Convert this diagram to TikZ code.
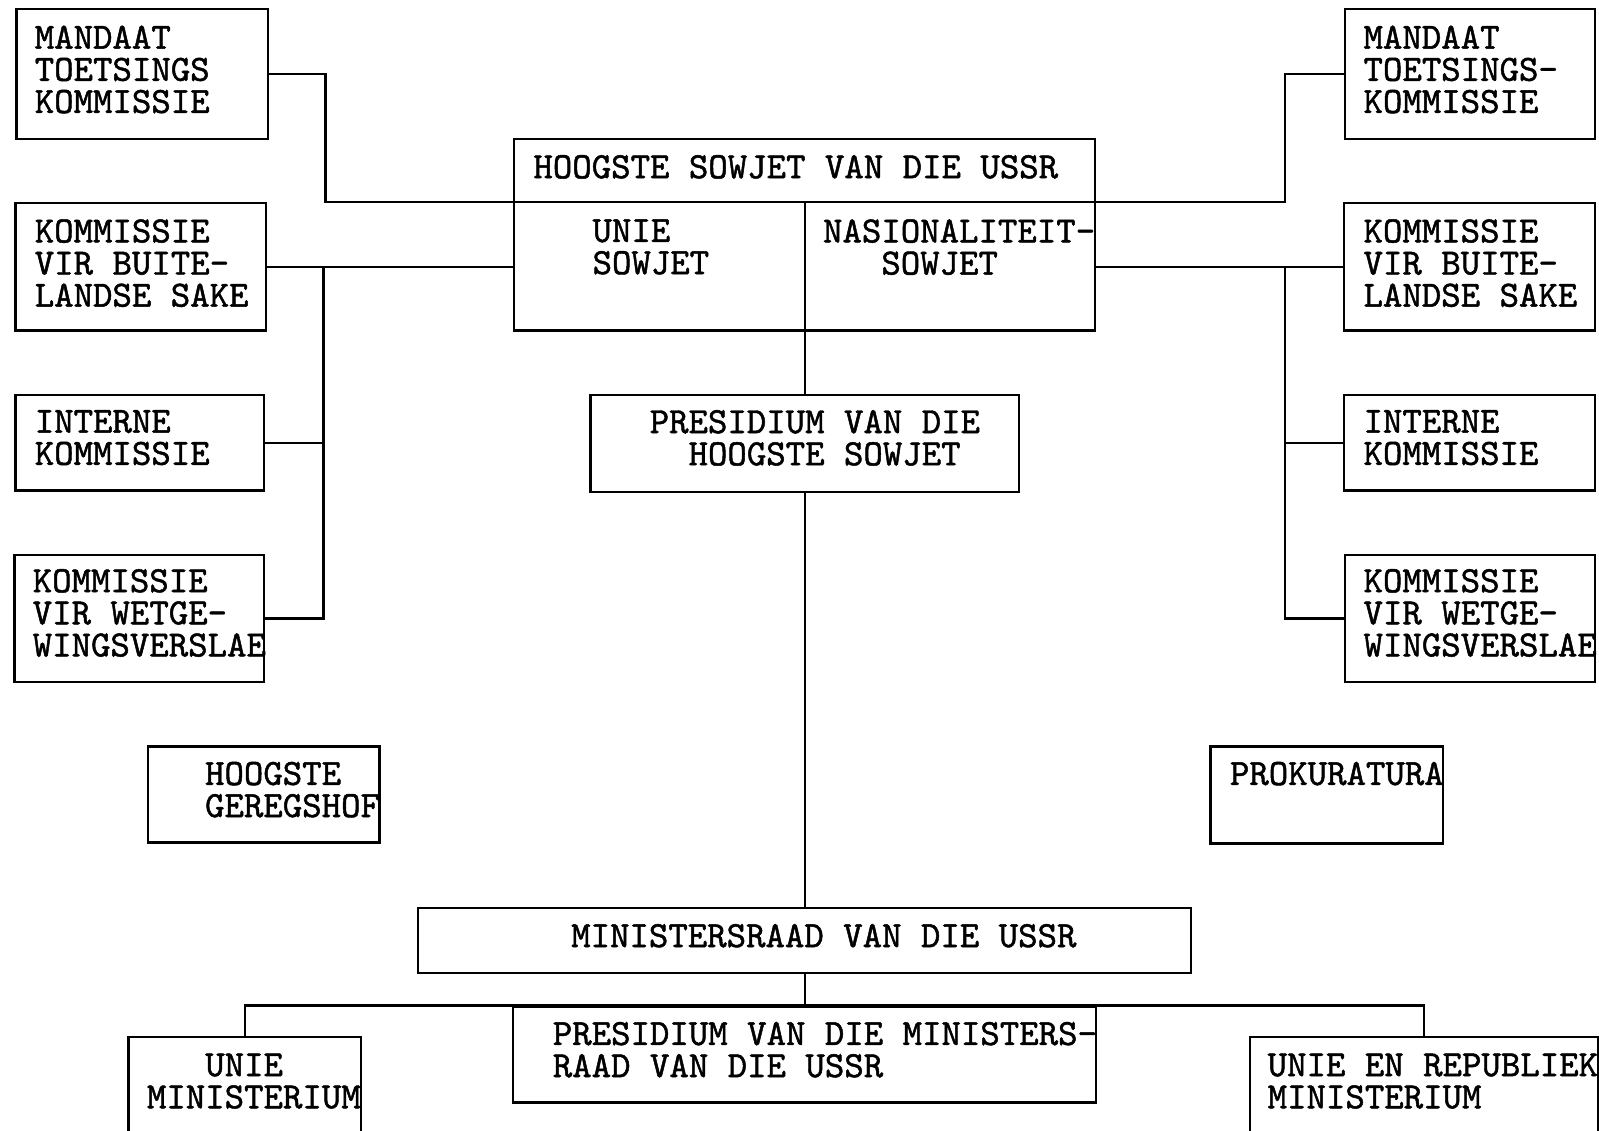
\documentclass[tikz,border=0pt]{standalone}
\usepackage{fontspec}
\newfontfamily\typefont{lmmono10-regular.otf}[FakeBold=1.3]
\usetikzlibrary{positioning}

\begin{document}
\begin{tikzpicture}[x=1pt, y=-1pt, line width=2.2pt,
  box/.style={draw, rectangle, inner sep=0pt, anchor=north west},
  txt/.style={inner sep=0pt, anchor=north west, align=left,
    font=\fontsize{36.3}{31.5}\selectfont\typefont}]
\useasboundingbox (0,0) rectangle (1568,1109);
\clip (0,0) rectangle (1568,1109);

% linker kommissies
\node[box, minimum width=247pt, minimum height=127pt] (lmandaat) at (15,8) {};
\node[box, minimum width=246pt, minimum height=125pt] (lbuite) at (14,198) {};
\node[box, minimum width=244pt, minimum height=94pt] (linterne) at (14,386) {};
\node[box, minimum width=245pt, minimum height=125pt] (lwetge) at (13,543) {};
\node[box, minimum width=227pt, minimum height=94pt] (geregshof) at (144,731) {};
\node[txt] (tlmandaat) at (33,24) {MANDAAT\\TOETSINGS\\KOMMISSIE};
\node[txt] (tlbuite) at (33,214) {KOMMISSIE\\VIR BUITE-\\LANDSE SAKE};
\node[txt] (tlinterne) at (33,401) {INTERNE\\KOMMISSIE};
\node[txt] (tlwetge) at (31,557) {KOMMISSIE\\VIR WETGE-\\WINGSVERSLAE};
\node[txt] (tgeregshof) at (200,746) {HOOGSTE\\GEREGSHOF};

% regter kommissies
\node[box, minimum width=245pt, minimum height=127pt] (rmandaat) at (1318,8) {};
\node[box, minimum width=246pt, minimum height=125pt] (rbuite) at (1317,198) {};
\node[box, minimum width=246pt, minimum height=94pt] (rinterne) at (1317,386) {};
\node[box, minimum width=245pt, minimum height=125pt] (rwetge) at (1318,543) {};
\node[box, minimum width=228pt, minimum height=95pt] (prokuratura) at (1186,731) {};
\node[txt] (trmandaat) at (1336,24) {MANDAAT\\TOETSINGS-\\KOMMISSIE};
\node[txt] (trbuite) at (1336,214) {KOMMISSIE\\VIR BUITE-\\LANDSE SAKE};
\node[txt] (trinterne) at (1336,401) {INTERNE\\KOMMISSIE};
\node[txt] (trwetge) at (1336,557) {KOMMISSIE\\VIR WETGE-\\WINGSVERSLAE};
\node[txt] (tprokuratura) at (1205,746) {PROKURATURA};

% middel
\node[box, minimum width=570pt, minimum height=188pt] (sowjet) at (503,135) {};
\node[box, minimum width=420pt, minimum height=95pt] (presidium) at (578,386) {};
\node[box, minimum width=758pt, minimum height=64pt] (raad) at (409,889) {};
\node[box, minimum width=572pt, minimum height=94pt] (presmin) at (502,986) {};
\node[box, minimum width=228pt, minimum height=120pt] (uniemin) at (125,1016) {};
\node[box, minimum width=341pt, minimum height=120pt] (republiek) at (1225,1016) {};
\node[txt] (tsowjet) at (522,151) {HOOGSTE SOWJET VAN DIE USSR};
\node[txt] (tunie) at (580,214) {UNIE\\SOWJET};
\node[txt] (tnasionaal) at (806,214) {NASIONALITEIT-\\\phantom{NAS}SOWJET};
\node[txt] (tpresidium) at (636,401) {PRESIDIUM VAN DIE\\\phantom{PR}HOOGSTE SOWJET};
\node[txt] (traad) at (559,905) {MINISTERSRAAD VAN DIE USSR};
\node[txt] (tpresmin) at (541,1001) {PRESIDIUM VAN DIE MINISTERS-\\RAAD VAN DIE USSR};
\node[txt] (tuniemin) at (143,1032) {\phantom{MIN}UNIE\\MINISTERIUM};
\node[txt] (trepubliek) at (1242,1032) {UNIE EN REPUBLIEK\\MINISTERIUM};

% verdeling in die hoogste sowjet
\coordinate (divL) at ([yshift=-63pt]sowjet.north west);
\coordinate (divR) at ([yshift=-63pt]sowjet.north east);
\draw (divL) -- (divR);
\draw (sowjet.south |- divL) -- (sowjet.south);

% verbindings links
\draw (lmandaat.east) -- ++(55,0) |- (divL);
\draw (lbuite.east) -- (sowjet.west |- lbuite.east);
\coordinate (lbus) at ([xshift=55pt]lbuite.east);
\draw (linterne.east) -- (linterne.east -| lbus);
\draw (lwetge.east) -| (lbus);

% verbindings regs
\draw (rmandaat.west) -- ++(-58,0) |- (divR);
\draw (rbuite.west) -- (sowjet.east |- rbuite.west);
\coordinate (rbus) at ([xshift=-57pt]rbuite.west);
\draw (rinterne.west) -- (rinterne.west -| rbus);
\draw (rwetge.west) -| (rbus);

% hoofas
\draw (sowjet.south) -- (presidium.north);
\draw (presidium.south) -- (raad.north);
\draw (raad.south) -- (presmin.north);
\draw (uniemin.north) |- (presmin.north) -| (republiek.north);
\end{tikzpicture}
\end{document}
